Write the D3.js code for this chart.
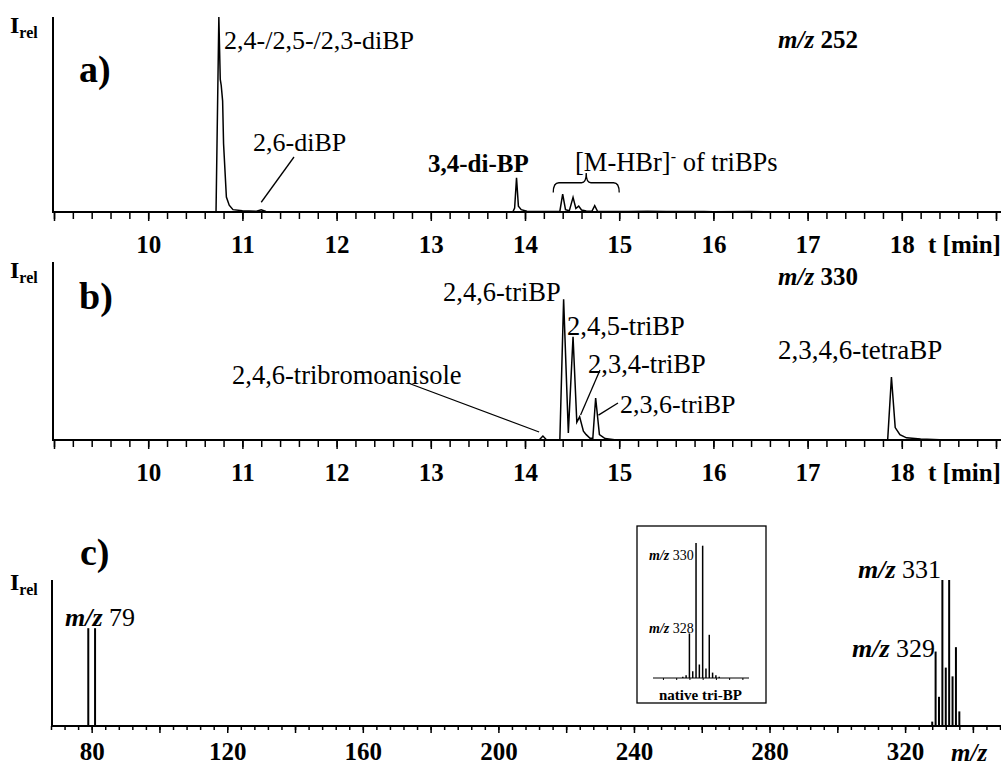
<!DOCTYPE html>
<html>
<head>
<meta charset="utf-8">
<script src="https://cdn.jsdelivr.net/npm/d3@7"></script>
</head>
<body style="margin:0">
<script>

// ---- data ----
// time axis (min)
var timeMajor = [9, 10, 11, 12, 13, 14, 15, 16, 17, 18, 19];
var timeLabels = [10, 11, 12, 13, 14, 15, 16, 17, 18];

// a) m/z 252 trace: time, relative intensity
var traceA_t = [9.0, 10.72, 10.75, 10.765, 10.775, 10.79, 10.80, 10.83, 10.86, 10.90, 11.0, 11.15, 11.2, 11.25, 11.5,
                13.87, 13.89, 13.91, 13.93, 13.96, 14.02, 14.30, 14.37, 14.40, 14.43, 14.47, 14.51, 14.54, 14.57, 14.60,
                14.65, 14.71, 14.74, 14.77, 14.85, 15.1, 15.3, 15.5, 15.9, 16.0, 16.4, 19.0];
var traceA_i = [0, 0, 1.0, 0.68, 0.65, 0.57, 0.35, 0.077, 0.035, 0.012, 0.006, 0.004, 0.011, 0.003, 0,
                0, 0.02, 0.175, 0.03, 0.012, 0.004, 0.002, 0.004, 0.092, 0.012, 0.006, 0.075, 0.018, 0.03, 0.01,
                0.005, 0.004, 0.033, 0.004, 0.002, 0.003, 0.004, 0.002, 0.003, 0.001, 0.002, 0];

// b) m/z 330 trace
var traceB_t = [9.0, 14.15, 14.19, 14.23, 14.37, 14.41, 14.46, 14.51, 14.55, 14.58, 14.62, 14.65, 14.69, 14.72,
                14.75, 14.79, 14.85, 14.95, 17.85, 17.89, 17.93, 17.98, 18.05, 18.2, 18.4, 19.0];
var traceB_i = [0, 0, 0.022, 0, 0, 0.79, 0.04, 0.58, 0.10, 0.13, 0.05, 0.03, 0.01, 0.01,
                0.236, 0.03, 0.008, 0.002, 0, 0.354, 0.07, 0.03, 0.012, 0.005, 0.001, 0];

// c) mass spectrum
var mzTicksMinor = d3.range(68, 349, 4);
var mzTicksMajor = [80, 100, 120, 140, 160, 180, 200, 220, 240, 260, 280, 300, 320, 340];
var mzLabels = [80, 120, 160, 200, 240, 280, 320];
var specMz = [79, 81, 328, 329, 330, 331, 332, 333, 334, 335, 336];
var specI = [0.67, 0.67, 0.03, 0.51, 0.2, 1.0, 0.4, 1.0, 0.34, 0.54, 0.1];

// inset: native tri-BP
var insetMz = [326, 327, 328, 329, 330, 331, 332, 333, 334, 335, 336, 337];
var insetI = [0.01, 0.02, 0.33, 0.05, 1.0, 0.1, 0.98, 0.07, 0.32, 0.04, 0.02, 0.01];
var insetTicks = [320, 324, 328, 332, 336, 340, 344];

var FONT = "Liberation Serif";

//creating SVG inside a wrapper div
var svg = d3.select("body").append("div").attr("id", "chart")
    .style("font-family", FONT)
    .append("svg")
    .attr("width", 1001)
    .attr("height", 767);

var xT = d3.scaleLinear().domain([9, 19]).range([54, 996]);
var xM = d3.scaleLinear().domain([68, 348]).range([51, 1000]);

var add_line = function(x1, y1, x2, y2, w){
    svg.append("line").attr("x1", x1).attr("y1", y1).attr("x2", x2).attr("y2", y2)
        .style("stroke", "#000").style("stroke-width", w || 1.5);
};

var add_text = function(x, y, size, txt, weight, style){
    return svg.append("text").attr("x", x).attr("y", y)
        .attr("font-family", FONT)
        .style("font-family", FONT)
        .style("font-size", size + "px")
        .style("font-weight", weight || "normal")
        .style("font-style", style || "normal")
        .text(txt);
};

// I_rel at the top of each y axis
var add_irel = function(y){
    var t = svg.append("text").attr("x", 10).attr("y", y)
        .attr("font-family", FONT).style("font-family", FONT)
        .style("font-size", "24px").style("font-weight", "bold");
    t.append("tspan").text("I");
    t.append("tspan").attr("dy", 5).style("font-size", "16px").text("rel");
};

// m/z label, italic m/z and a number
var add_mz = function(x, y, size, num, bold){
    var t = svg.append("text").attr("x", x).attr("y", y)
        .attr("font-family", FONT).style("font-family", FONT)
        .style("font-size", size + "px")
        .style("font-weight", bold ? "bold" : "normal");
    t.append("tspan").style("font-style", "italic").style("font-weight", "bold").text("m/z ");
    t.append("tspan").text(num);
    return t;
};

var styleAxis = function(g){
    g.attr("font-family", FONT);
    g.select(".domain").remove();
    g.selectAll("line").style("stroke", "#000").style("stroke-width", 1.5);
    g.selectAll("text").attr("font-family", FONT).style("font-family", FONT)
        .style("font-size", "25px").style("font-weight", "bold");
};

var timePanel = function(top, base, t, i){
    var y = d3.scaleLinear().domain([0, 1]).range([base, top]);

    // minor ticks
    var minor = svg.append("g").attr("transform", "translate(0," + base + ")")
        .call(d3.axisBottom(xT).tickValues(d3.range(9, 19.01, 0.2)).tickSize(7).tickFormat(""));
    styleAxis(minor);
    // major ticks with labels
    var major = svg.append("g").attr("transform", "translate(0," + base + ")")
        .call(d3.axisBottom(xT).tickValues(timeMajor).tickSize(9).tickPadding(14)
            .tickFormat(function(d){ return timeLabels.indexOf(d) >= 0 ? d : ""; }));
    styleAxis(major);

    add_line(xT(9) - 1, top, xT(9) - 1, base, 2);
    add_line(xT(9) - 2, base, 1001, base, 2);

    var line = d3.line().x(function(d){ return xT(d[0]); }).y(function(d){ return y(d[1]); });
    svg.append("path").datum(d3.zip(t, i)).attr("d", line)
        .style("fill", "none").style("stroke", "#000").style("stroke-width", 1.5);

    add_text(928, base + 41, 25, "t [min]", "bold");
    return y;
};

// ---- a) ----
var yA = timePanel(17, 212, traceA_t, traceA_i);
add_irel(33);
add_text(79, 82, 38, "a)", "bold");
add_mz(778, 48, 25, "252", true);
add_text(224, 49, 26, "2,4-/2,5-/2,3-diBP");
add_text(253, 151, 26, "2,6-diBP");
add_line(294, 157, xT(11.2), yA(0.05), 1.3);
add_text(428, 172, 25, "3,4-di-BP", "bold");
var lab = add_text(575, 171, 26.5, "[M-HBr]");
lab.append("tspan").attr("dy", -9).style("font-size", "16px").text("-");
lab.append("tspan").attr("dy", 9).text(" of triBPs");

// brace over the triBP fragments
var bp = d3.path();
bp.moveTo(xT(14.30), yA(0.10));
bp.quadraticCurveTo(xT(14.30), yA(0.15), xT(14.36), yA(0.15));
bp.lineTo(xT(14.60), yA(0.15));
bp.quadraticCurveTo(xT(14.65), yA(0.15), xT(14.65), yA(0.2));
bp.quadraticCurveTo(xT(14.65), yA(0.15), xT(14.70), yA(0.15));
bp.lineTo(xT(14.94), yA(0.15));
bp.quadraticCurveTo(xT(15.0), yA(0.15), xT(15.0), yA(0.10));
svg.append("path").attr("d", bp.toString()).style("fill", "none").style("stroke", "#000").style("stroke-width", 1.3);

// ---- b) ----
var yB = timePanel(262, 440, traceB_t, traceB_i);
add_irel(278);
add_text(79, 309, 38, "b)", "bold");
add_mz(778, 285, 25, "330", true);
add_text(443, 301, 26.5, "2,4,6-triBP");
add_text(567, 335, 26.5, "2,4,5-triBP");
add_text(588, 373, 26.5, "2,3,4-triBP");
add_text(620, 413, 26, "2,3,6-triBP");
add_text(232, 384, 26.5, "2,4,6-tribromoanisole");
add_text(778, 359, 27, "2,3,4,6-tetraBP");
add_line(408, 383, xT(14.15), yB(0.045), 1.3);
add_line(600, 370, xT(14.59), yB(0.14), 1.3);
add_line(618, 403, xT(14.78), yB(0.14), 1.3);

// ---- c) ----
var baseC = 726, topC = 580;
var yC = d3.scaleLinear().domain([0, 1]).range([baseC, topC]);
var minorC = svg.append("g").attr("transform", "translate(0," + baseC + ")")
    .call(d3.axisBottom(xM).tickValues(mzTicksMinor).tickSize(4).tickFormat(""));
styleAxis(minorC);
var majorC = svg.append("g").attr("transform", "translate(0," + baseC + ")")
    .call(d3.axisBottom(xM).tickValues(mzTicksMajor).tickSize(7).tickPadding(9)
        .tickFormat(function(d){ return mzLabels.indexOf(d) >= 0 ? d : ""; }));
styleAxis(majorC);
add_line(52, topC, 52, baseC, 2);
add_line(51, baseC, 1001, baseC, 2);

svg.selectAll(".specbar").data(d3.zip(specMz, specI)).enter().append("line")
    .attr("class", "specbar")
    .attr("x1", function(d){ return xM(d[0]); }).attr("x2", function(d){ return xM(d[0]); })
    .attr("y1", baseC).attr("y2", function(d){ return yC(d[1]); })
    .style("stroke", "#000").style("stroke-width", 2);

add_irel(590);
add_text(80, 565, 38, "c)", "bold");
add_mz(65, 626, 26, "79");
add_mz(858, 578, 26, "331");
add_mz(852, 657, 26, "329");
add_text(951, 761, 25, "m/z", "bold", "italic");

// inset box
svg.append("rect").attr("x", 637).attr("y", 526).attr("width", 129).attr("height", 177)
    .style("fill", "none").style("stroke", "#000").style("stroke-width", 1.3);
var xI = d3.scaleLinear().domain([317, 346]).range([653, 749]);
var yI = d3.scaleLinear().domain([0, 1]).range([678, 543]);
var axI = svg.append("g").attr("transform", "translate(0,678)")
    .call(d3.axisBottom(xI).tickValues(insetTicks).tickSize(2).tickFormat(""));
axI.select(".domain").remove();
axI.selectAll("line").style("stroke", "#000").style("stroke-width", 1);
add_line(653, 678, 749, 678, 1);
svg.selectAll(".insbar").data(d3.zip(insetMz, insetI)).enter().append("line")
    .attr("class", "insbar")
    .attr("x1", function(d){ return xI(d[0]); }).attr("x2", function(d){ return xI(d[0]); })
    .attr("y1", 678).attr("y2", function(d){ return yI(d[1]); })
    .style("stroke", "#000").style("stroke-width", 1.5);
add_mz(649, 560, 14, "330");
add_mz(649, 633, 14, "328");
add_text(659, 700, 15, "native tri-BP", "bold");

</script>
</body>
</html>
